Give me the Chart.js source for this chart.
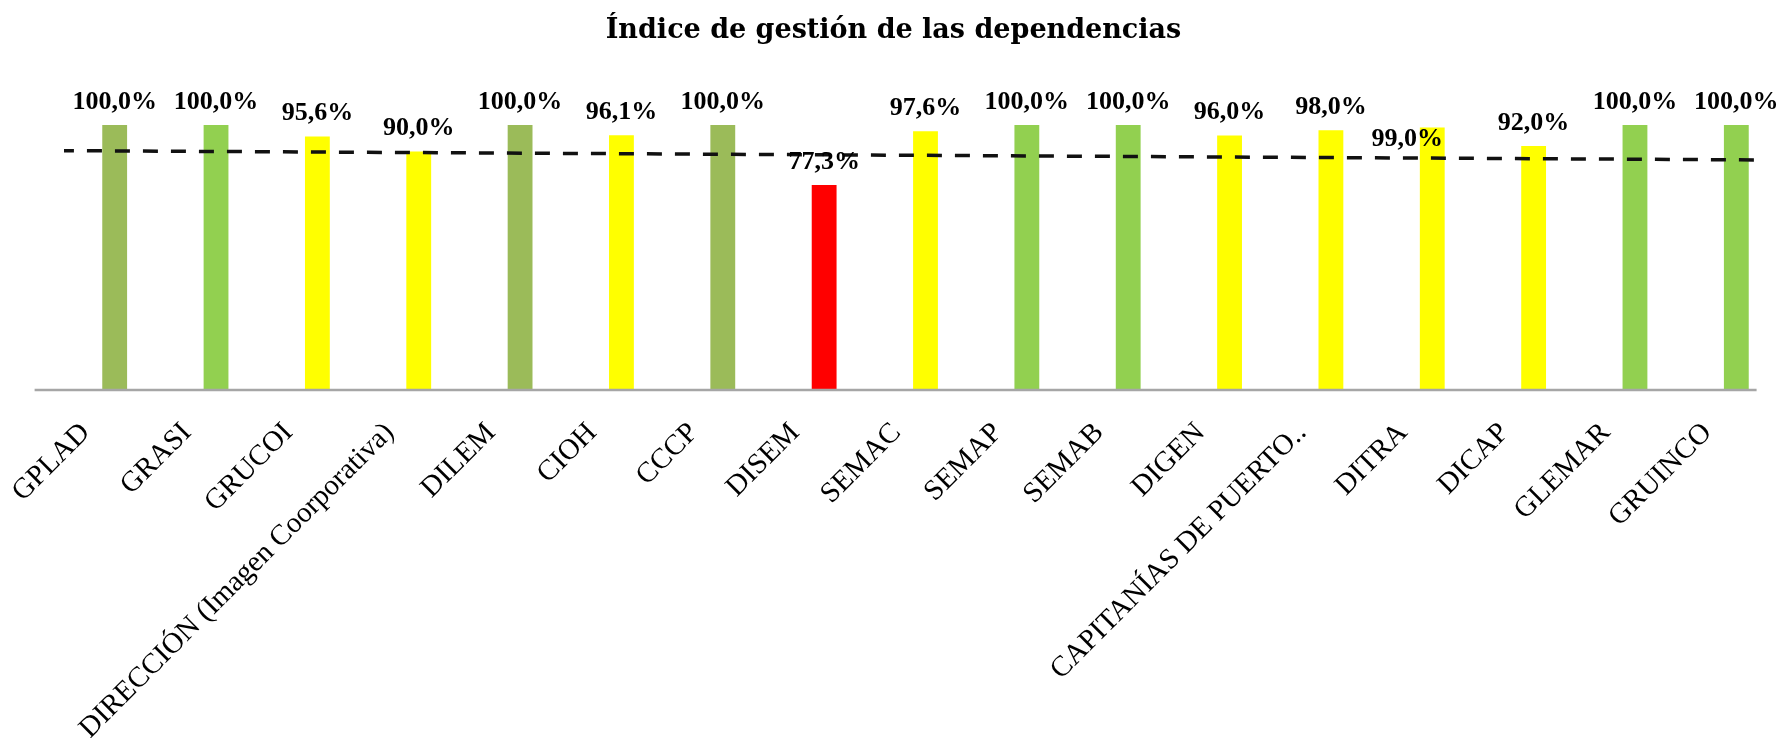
<!DOCTYPE html>
<html>
<head>
<meta charset="utf-8">
<script src="https://cdn.jsdelivr.net/npm/chart.js@4.4.0/dist/chart.umd.min.js"></script>
<style>
  html, body { margin: 0; padding: 0; background: #fff; }
  #wrap { width: 1789px; height: 738px; }
</style>
</head>
<body>
<div id="wrap"><canvas id="chart"></canvas></div>
<script>
const categories = [
    'GPLAD', 'GRASI', 'GRUCOI', 'DIRECCIÓN (Imagen Coorporativa)', 'DILEM', 'CIOH', 'CCCP',
    'DISEM', 'SEMAC', 'SEMAP', 'SEMAB', 'DIGEN', 'CAPITANÍAS DE PUERTO..', 'DITRA', 'DICAP',
    'GLEMAR', 'GRUINCO'
];
const indexValues = [100, 100, 95.6, 90, 100, 96.1, 100, 77.3, 97.6, 100, 100, 96, 98, 99, 92, 100, 100];

const trendX = [-0.55, 16.21];
const trendY = [90.3, 86.8];

const OLIVE = '#9bbb59', LIME = '#92d050', YELLOW = '#ffff00', RED = '#ff0000';
const barColors = [
    OLIVE, LIME, YELLOW, YELLOW, OLIVE, YELLOW, OLIVE, RED, YELLOW,
    LIME, LIME, YELLOW, YELLOW, YELLOW, YELLOW, LIME, LIME
];

// DITRA's label was moved by hand in the original
const labelNudge = { 13: { dx: -25, dy: 35 } };

const fmt = (v) => v.toFixed(1).replace('.', ',') + '%';

const overlay = {
    id: 'overlay',
    afterDatasetsDraw(chart) {
        const { ctx, scales } = chart;
        const xt = scales.xTrend, y = scales.y;

        // axis line
        ctx.save();
        ctx.strokeStyle = '#a6a6a6';
        ctx.lineWidth = 2.5;
        ctx.beginPath();
        ctx.moveTo(xt.getPixelForValue(-0.79), y.getPixelForValue(0));
        ctx.lineTo(xt.getPixelForValue(16.2), y.getPixelForValue(0));
        ctx.stroke();

        // value labels
        ctx.fillStyle = '#000';
        ctx.font = 'bold 26px "Liberation Serif"';
        ctx.textAlign = 'center';
        ctx.textBaseline = 'middle';
        chart.getDatasetMeta(1).data.forEach((bar, i) => {
            const n = labelNudge[i] || { dx: 0, dy: 0 };
            ctx.fillText(fmt(indexValues[i]), bar.x + n.dx, bar.y - 23 + n.dy);
        });
        ctx.restore();
    }
};

new Chart(document.getElementById('chart'), {
    type: 'bar',
    data: {
        labels: categories,
        datasets: [
            {
                type: 'line',
                xAxisID: 'xTrend',
                data: trendX.map((x, i) => ({ x, y: trendY[i] })),
                borderColor: '#111',
                borderWidth: 3.5,
                borderDash: [15, 13],
                pointRadius: 0,
                order: 0
            },
            {
                type: 'bar',
                data: indexValues,
                backgroundColor: barColors,
                grouped: false,
                categoryPercentage: 1,
                barPercentage: 0.245,
                order: 1
            }
        ]
    },
    options: {
        responsive: true,
        maintainAspectRatio: false,
        animation: false,
        layout: { padding: { left: 0, right: 2, top: 0, bottom: 0 } },
        plugins: {
            legend: { display: false },
            tooltip: { enabled: false },
            title: {
                display: true,
                text: 'Índice de gestión de las dependencias',
                color: '#000',
                font: { family: '"DejaVu Serif"', size: 27, weight: 'bold' },
                padding: { top: 15, bottom: 51 }
            }
        },
        scales: {
            x: {
                offset: true,
                grid: { display: false, drawTicks: false },
                border: { display: false },
                ticks: {
                    autoSkip: false,
                    maxRotation: 45,
                    minRotation: 45,
                    labelOffset: -29,
                    padding: 26,
                    color: '#000',
                    font: { family: '"Liberation Serif"', size: 29 }
                },
                afterFit(scale) { scale.height = 348; }
            },
            xTrend: {
                type: 'linear',
                display: false,
                offset: false,
                min: -0.5,
                max: 16.5
            },
            y: {
                min: 0,
                max: 110,
                grid: { display: false },
                border: { display: false },
                ticks: { display: false },
                afterFit(scale) { scale.width = 64; }
            }
        }
    },
    plugins: [overlay]
});
</script>
</body>
</html>
